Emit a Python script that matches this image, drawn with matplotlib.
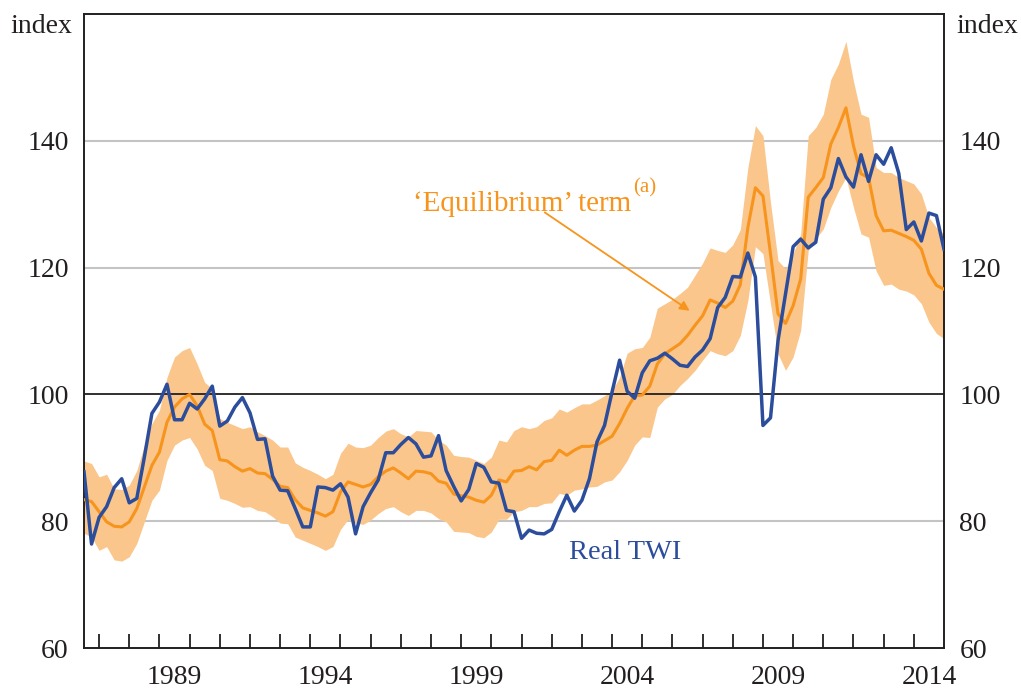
import numpy as np
import matplotlib
matplotlib.use("Agg")
import matplotlib.pyplot as plt

# Quarterly data, 1986 Q2 .. 2014 Q4 (plotted at quarter end)
start_year = 1986.5
real_twi = [87.8, 76.4, 80.6, 82.3, 85.3, 86.7, 82.9, 83.6, 90.1, 97.0,
            98.8, 101.6, 96.0, 96.0, 98.6, 97.7, 99.3, 101.3, 95.0, 95.8,
            98.0, 99.5, 97.1, 92.9, 93.0, 87.1, 84.9, 84.8, 82.0, 79.1,
            79.1, 85.4, 85.3, 84.9, 85.9, 83.8, 78.0, 82.3, 84.5, 86.5,
            90.8, 90.8, 92.1, 93.2, 92.2, 90.1, 90.3, 93.5, 88.0, 85.5,
            83.2, 85.0, 89.1, 88.5, 86.2, 86.0, 81.7, 81.5, 77.3, 78.6,
            78.1, 78.0, 78.7, 81.5, 84.1, 81.6, 83.3, 86.7, 92.5, 95.1,
            100.4, 105.4, 100.5, 99.4, 103.4, 105.3, 105.7, 106.5, 105.6, 104.6,
            104.4, 105.9, 107.0, 108.8, 113.7, 115.3, 118.6, 118.5, 122.3, 118.5,
            95.1, 96.3, 108.5, 115.9, 123.3, 124.5, 123.1, 124.0, 130.8, 132.6,
            137.2, 134.3, 132.7, 137.8, 133.6, 137.8, 136.3, 138.9, 134.9, 126.0,
            127.2, 124.2, 128.6, 128.2, 122.9]

equilibrium = [83.4, 83.1, 81.5, 79.9, 79.2, 79.1, 79.9, 82.0, 85.4, 88.8,
               90.9, 95.6, 98.0, 99.3, 100.0, 98.2, 95.3, 94.3, 89.7, 89.5,
               88.6, 87.9, 88.3, 87.6, 87.5, 86.6, 85.5, 85.3, 83.4, 82.1,
               81.7, 81.3, 80.8, 81.5, 84.6, 86.2, 85.8, 85.4, 85.8, 87.0,
               87.9, 88.4, 87.6, 86.7, 87.9, 87.8, 87.5, 86.3, 86.0, 84.3,
               84.0, 83.8, 83.3, 83.0, 84.1, 86.5, 86.2, 87.9, 88.0, 88.6,
               88.1, 89.4, 89.6, 91.2, 90.4, 91.2, 91.8, 91.8, 92.0, 92.7,
               93.4, 95.4, 97.8, 99.8, 99.9, 101.3, 104.8, 106.4, 107.2, 108.0,
               109.3, 110.9, 112.4, 114.9, 114.4, 113.7, 114.7, 117.3, 126.3, 132.6,
               131.3, 122.2, 112.7, 111.2, 114.0, 118.2, 131.1, 132.6, 134.2, 139.5,
               142.1, 145.2, 139.2, 134.8, 134.2, 128.2, 125.8, 125.9, 125.4, 124.9,
               124.3, 122.9, 119.1, 117.2, 116.6]

band_upper = [89.5, 89.1, 87.0, 87.4, 85.1, 85.0, 85.7, 88.0, 92.0, 95.4,
              97.5, 102.7, 105.9, 106.9, 107.4, 104.8, 101.9, 100.9, 96.2, 95.6,
              95.1, 94.6, 94.9, 94.1, 93.5, 92.8, 91.7, 91.7, 89.2, 88.5,
              88.0, 87.4, 86.7, 87.4, 90.7, 92.3, 91.7, 91.6, 92.0, 93.2,
              94.2, 94.6, 93.8, 93.3, 94.3, 94.2, 94.1, 92.8, 92.0, 90.4,
              90.2, 90.1, 89.6, 89.1, 90.1, 92.8, 92.5, 94.3, 94.9, 94.6,
              94.9, 95.9, 96.3, 97.7, 97.2, 97.9, 98.5, 98.5, 99.1, 99.8,
              100.6, 102.7, 106.5, 107.2, 107.4, 109.0, 113.6, 114.3, 115.0, 115.9,
              116.9, 118.8, 120.7, 123.1, 122.7, 122.4, 123.6, 126.0, 135.8, 142.4,
              140.8, 130.3, 121.1, 119.8, 122.2, 125.3, 140.8, 142.1, 144.2, 149.7,
              152.1, 155.7, 149.4, 144.2, 143.7, 135.8, 135.0, 135.0, 134.2, 133.7,
              133.2, 131.6, 127.9, 126.3, 125.3]

band_lower = [78.1, 77.5, 75.4, 76.0, 73.9, 73.7, 74.4, 76.5, 79.9, 83.3,
              84.9, 89.6, 92.0, 92.8, 93.2, 91.4, 88.8, 88.0, 83.6, 83.3,
              82.8, 82.2, 82.3, 81.7, 81.5, 80.7, 79.7, 79.6, 77.5, 77.0,
              76.5, 76.0, 75.4, 76.0, 78.7, 80.3, 79.7, 79.5, 80.2, 81.2,
              82.0, 82.3, 81.5, 80.9, 81.7, 81.7, 81.3, 80.4, 79.9, 78.4,
              78.3, 78.2, 77.6, 77.4, 78.3, 80.3, 80.3, 81.5, 81.7, 82.3,
              82.3, 82.8, 82.9, 84.4, 84.1, 84.9, 85.1, 85.4, 85.5, 86.2,
              86.5, 87.8, 89.6, 92.0, 93.3, 93.2, 98.0, 99.3, 100.0, 101.4,
              102.5, 103.8, 105.4, 106.9, 106.4, 106.1, 106.9, 109.3, 114.8, 123.3,
              122.2, 114.3, 106.4, 103.8, 105.9, 110.1, 122.7, 124.5, 126.1, 129.5,
              132.1, 134.2, 129.5, 125.3, 124.8, 119.5, 117.2, 117.4, 116.6, 116.3,
              115.7, 114.3, 111.4, 109.6, 108.8]

y_ticks = [60, 80, 100, 120, 140]
x_label_years = [1989, 1994, 1999, 2004, 2009, 2014]

t = start_year + 0.25 * np.arange(len(real_twi))

ORANGE = "#F7941D"
BAND = "#FAC68B"
BLUE = "#2B4D9B"
TEXT = "#231F20"

plt.rcParams['font.family'] = ['Liberation Serif', 'DejaVu Serif']

fig = plt.figure(figsize=(10.21, 6.91), dpi=100)
ax = fig.add_axes([84/1021, 1 - 648/691, (944-84)/1021, (648-14)/691])

ax.set_xlim(1986.5, 2015.0)
ax.set_ylim(60, 160)

# grid lines
for yv in [80, 120, 140]:
    ax.axhline(yv, color="#C4C4C4", lw=1.5, zorder=0.5)
ax.axhline(100, color=TEXT, lw=1.3, zorder=2)

ax.fill_between(t, band_lower, band_upper, color=BAND, lw=0, zorder=1)
ax.plot(t, equilibrium, color=ORANGE, lw=2.2, zorder=3)
ax.plot(t, real_twi, color=BLUE, lw=2.5, zorder=4)

# y axis: labels both sides, no tick marks
ax.set_yticks(y_ticks)
ax.set_yticklabels([str(v) for v in y_ticks])
ax.tick_params(axis='y', length=0, labelsize=20, pad=11, colors=TEXT,
               left=True, right=True, labelleft=True, labelright=True)

# x axis: year-boundary minor ticks, labels centered in year
ax.set_xticks([y + 0.5 for y in x_label_years])
ax.set_xticklabels([str(y) for y in x_label_years])
ax.set_xticks(np.arange(1987, 2015), minor=True)
ax.tick_params(axis='x', which='major', length=0, labelsize=20, pad=12,
               colors=TEXT)
ax.tick_params(axis='x', which='minor', length=10, width=1.3, direction='in',
               color=TEXT)

for sp in ax.spines.values():
    sp.set_color(TEXT)
    sp.set_linewidth(1.4)

fig.text(10/1021, 1 - 33/691, "index", fontsize=20, color=TEXT,
         ha='left', va='baseline')
fig.text(956/1021, 1 - 33/691, "index", fontsize=20, color=TEXT,
         ha='left', va='baseline')

eq_txt = ax.text(1997.39, 129.0, "\u2018Equilibrium\u2019 term", fontsize=21,
                 color=ORANGE, ha='left', va='baseline', zorder=5)
ax.annotate("(a)", xy=(1.01, 0.72), xycoords=eq_txt, fontsize=15,
            color=ORANGE, ha='left', va='bottom')
ax.annotate("", xy=(2006.57, 113.2), xytext=(2001.77, 128.7),
            arrowprops=dict(arrowstyle="-|>", color=ORANGE, lw=1.3,
                            mutation_scale=14, shrinkA=0, shrinkB=0),
            zorder=5)

ax.text(2002.57, 74.0, "Real TWI", fontsize=20.5, color=BLUE,
        ha='left', va='baseline', zorder=5)

fig.savefig("out.png", dpi=100)
